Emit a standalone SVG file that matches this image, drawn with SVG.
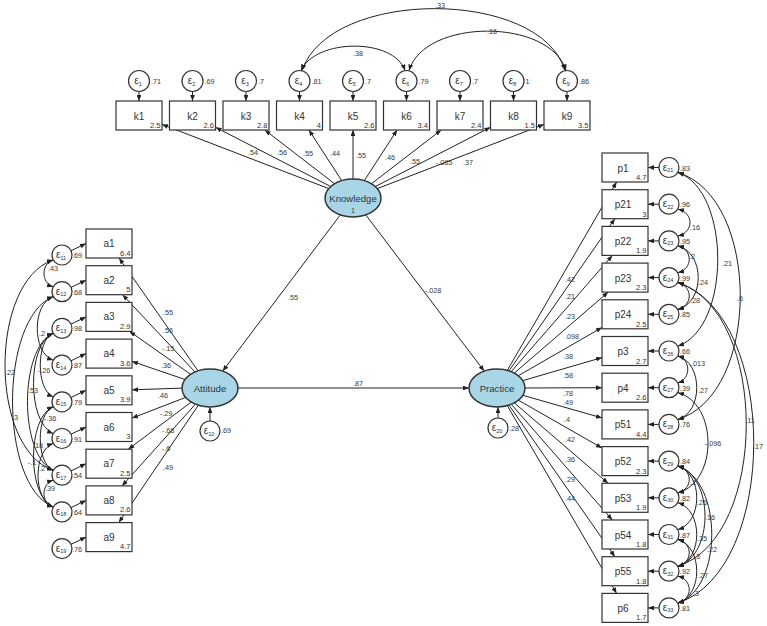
<svg xmlns="http://www.w3.org/2000/svg" width="767" height="626" viewBox="0 0 767 626">
<style>
.box{fill:#fff;stroke:#333;stroke-width:1.2}
.lat{fill:#a8d6e6;stroke:#333;stroke-width:1.5}
.err{fill:#fff;stroke:#333;stroke-width:1.2}
text{font-family:"Liberation Sans",Arial,sans-serif;fill:#333}
.nm{font-size:10px;text-anchor:middle}
.ln{font-size:9.6px;text-anchor:middle}
.mn{font-size:7.5px;text-anchor:end}
.lb{font-size:7.3px;text-anchor:middle;fill:#3a3a3a}
.vl{font-size:7.3px;fill:#3a3a3a}
.ep{font-size:10px;text-anchor:middle}
.sb{font-size:5.5px}
.pa{fill:none;stroke:#222;stroke-width:1;marker-end:url(#ah)}
.cv{fill:none;stroke:#222;stroke-width:1;marker-end:url(#ah);marker-start:url(#ah)}
</style>
<defs>
<marker id="ah" viewBox="0 0 10 8" refX="10" refY="4" markerWidth="6" markerHeight="4.8" markerUnits="userSpaceOnUse" orient="auto-start-reverse"><path d="M0,0L10,4L0,8z" fill="#222"/></marker>
</defs>
<rect width="767" height="626" fill="#fff"/>

<g id="connectors">
<path class="pa" d="M328.7,188.6L162,124.4"/>
<path class="pa" d="M330.7,186.5L215.5,127.3"/>
<path class="pa" d="M334.5,183.7L264.8,130"/>
<path class="pa" d="M341.7,180.6L308.9,130"/>
<path class="pa" d="M353,179L353,130"/>
<path class="pa" d="M364.3,180.6L397.1,130"/>
<path class="pa" d="M371.5,183.7L441.2,130"/>
<path class="pa" d="M375.3,186.5L490.5,127.3"/>
<path class="pa" d="M377.3,188.6L544,124.4"/>
<path class="pa" d="M139,91.5V101"/>
<path class="pa" d="M192.5,91.5V101"/>
<path class="pa" d="M246,91.5V101"/>
<path class="pa" d="M299.5,91.5V101"/>
<path class="pa" d="M353,91.5V101"/>
<path class="pa" d="M406.5,91.5V101"/>
<path class="pa" d="M460,91.5V101"/>
<path class="pa" d="M513.5,91.5V101"/>
<path class="pa" d="M567,91.5V101"/>
<path class="cv" d="M302,70.5C330,-12 540,-12 565,70.5"/>
<path class="cv" d="M301,70.5C316,38 394,38 405,70.5"/>
<path class="cv" d="M409,70.5C425,18 550,18 566,70.5"/>
<path class="pa" d="M198,370.8L119.1,258"/>
<path class="pa" d="M195,372L122.6,294.7"/>
<path class="pa" d="M190.6,374.3L129.6,331.4"/>
<path class="pa" d="M185,379.5L132,361.4"/>
<path class="pa" d="M182,388.1L132,389.8"/>
<path class="pa" d="M185.7,397.4L132,418.1"/>
<path class="pa" d="M191.2,402.1L128.3,449.2"/>
<path class="pa" d="M195.4,404.2L122,485.9"/>
<path class="pa" d="M198.3,405.3L118.8,522.6"/>
<path class="pa" d="M71,250.7L86,243.5"/>
<path class="pa" d="M71,287.4L86,280.2"/>
<path class="pa" d="M71,324.1L86,316.9"/>
<path class="pa" d="M71,360.8L86,353.6"/>
<path class="pa" d="M71,397.5L86,390.3"/>
<path class="pa" d="M71,434.2L86,427"/>
<path class="pa" d="M71,470.9L86,463.7"/>
<path class="pa" d="M71,507.6L86,500.4"/>
<path class="pa" d="M71,544.3L86,537.1"/>
<path class="cv" d="M53,260C41,263.7 41,283 53,286.7"/>
<path class="cv" d="M53,260C-11,282 -11,448.2 53,470.2"/>
<path class="cv" d="M53,296.7C-1,318.7 -1,484.9 53,506.9"/>
<path class="cv" d="M53,296.7C32,304 32,352.8 53,360.1"/>
<path class="cv" d="M53,333.4C36,340.7 36,389.5 53,396.8"/>
<path class="cv" d="M53,333.4C19,348.1 19,455.5 53,470.2"/>
<path class="cv" d="M53,333.4C27,344.4 27,422.5 53,433.5"/>
<path class="cv" d="M53,406.8C27,417.8 27,495.9 53,506.9"/>
<path class="cv" d="M53,443.5C33,450.8 33,499.6 53,506.9"/>
<path class="cv" d="M53,406.8C36,414.1 36,462.9 53,470.2"/>
<path class="cv" d="M53,480.2C41,483.9 41,503.2 53,506.9"/>
<path class="pa" d="M507.3,370.3L616.6,182"/>
<path class="pa" d="M509,370.8L614.9,218.7"/>
<path class="pa" d="M511.2,371.6L612.4,255.4"/>
<path class="pa" d="M514.3,373.1L608.2,292.1"/>
<path class="pa" d="M518.3,375.7L602,327.5"/>
<path class="pa" d="M522.8,380.6L602,357.6"/>
<path class="pa" d="M525,388L602,387.7"/>
<path class="pa" d="M522.8,395.3L602,417.9"/>
<path class="pa" d="M518.4,400.2L602,448"/>
<path class="pa" d="M514.4,402.9L608.1,483.3"/>
<path class="pa" d="M511.3,404.3L612.3,520"/>
<path class="pa" d="M509,405.2L614.9,556.7"/>
<path class="pa" d="M507.3,405.7L616.6,593.4"/>
<path class="pa" d="M659,167.5H648"/>
<path class="pa" d="M659,204.2H648"/>
<path class="pa" d="M659,240.9H648"/>
<path class="pa" d="M659,277.6H648"/>
<path class="pa" d="M659,314.3H648"/>
<path class="pa" d="M659,351H648"/>
<path class="pa" d="M659,387.7H648"/>
<path class="pa" d="M659,424.4H648"/>
<path class="pa" d="M659,461.1H648"/>
<path class="pa" d="M659,497.8H648"/>
<path class="pa" d="M659,534.5H648"/>
<path class="pa" d="M659,571.2H648"/>
<path class="pa" d="M659,607.9H648"/>
<path class="cv" d="M678,209.2C694,212.9 694,232.2 678,235.9"/>
<path class="cv" d="M678,245.9C693,249.6 693,268.9 678,272.6"/>
<path class="cv" d="M678,245.9C705,253.2 705,302 678,309.3"/>
<path class="cv" d="M678,282.6C693,286.3 693,305.6 678,309.3"/>
<path class="cv" d="M678,172.5C731,190.9 731,327.7 678,346"/>
<path class="cv" d="M678,172.5C761,198.2 761,393.7 678,419.4"/>
<path class="cv" d="M678,282.6C769,311.9 769,536.9 678,566.2"/>
<path class="cv" d="M678,282.6C779,315.6 779,569.9 678,602.9"/>
<path class="cv" d="M678,356C691,359.7 691,379 678,382.7"/>
<path class="cv" d="M678,356C703,363.3 703,412.1 678,419.4"/>
<path class="cv" d="M678,392.7C718,403.7 718,481.8 678,492.8"/>
<path class="cv" d="M678,466.1C693,469.8 693,489.1 678,492.8"/>
<path class="cv" d="M678,466.1C703,473.4 703,522.2 678,529.5"/>
<path class="cv" d="M678,466.1C714,477.1 714,555.2 678,566.2"/>
<path class="cv" d="M678,466.1C723,480.8 723,588.2 678,602.9"/>
<path class="cv" d="M678,502.8C703,510.1 703,558.9 678,566.2"/>
<path class="cv" d="M678,539.5C693,543.2 693,562.5 678,566.2"/>
<path class="cv" d="M678,539.5C703,546.8 703,595.6 678,602.9"/>
<path class="cv" d="M678,576.2C693,579.9 693,599.2 678,602.9"/>
<path class="pa" d="M340.3,214.9L222.7,371.1"/>
<path class="pa" d="M365.8,214.9L484.2,371.1"/>
<path class="pa" d="M238,388L469,388"/>
<path class="pa" d="M210,421V407"/>
<path class="pa" d="M498,418V407"/>
</g>

<g id="labels">
<text class="lb" x="253" y="154.5">.54</text>
<text class="lb" x="282" y="154.5">.56</text>
<text class="lb" x="308" y="155.5">.55</text>
<text class="lb" x="335" y="155.5">.44</text>
<text class="lb" x="361" y="157.5">.55</text>
<text class="lb" x="390" y="159.5">.46</text>
<text class="lb" x="415" y="163.5">.55</text>
<text class="lb" x="444" y="164.5">-.085</text>
<text class="lb" x="468" y="164.5">.37</text>
<text class="lb" x="440" y="8">.33</text>
<text class="lb" x="358" y="55.5">.38</text>
<text class="lb" x="492" y="33.5">.16</text>
<text class="lb" x="168" y="314.5">.55</text>
<text class="lb" x="168" y="332.5">.56</text>
<text class="lb" x="168" y="351">-.15</text>
<text class="lb" x="166" y="367.5">.36</text>
<text class="lb" x="163" y="397.5">.46</text>
<text class="lb" x="166" y="415.5">-.29</text>
<text class="lb" x="168" y="432.5">-.68</text>
<text class="lb" x="166" y="450.5">-.6</text>
<text class="lb" x="168" y="469.5">.49</text>
<text class="lb" x="293" y="299.5">.55</text>
<text class="lb" x="433" y="292.5">-.028</text>
<text class="lb" x="358" y="385.5">.87</text>
<text class="lb" x="570" y="281.5">.42</text>
<text class="lb" x="570" y="298.5">.21</text>
<text class="lb" x="570" y="318.5">.23</text>
<text class="lb" x="572" y="338.5">.098</text>
<text class="lb" x="568" y="358.5">.38</text>
<text class="lb" x="568" y="377.5">.58</text>
<text class="lb" x="568" y="395.5">.78</text>
<text class="lb" x="568" y="404.5">.49</text>
<text class="lb" x="567" y="421.5">.4</text>
<text class="lb" x="570" y="441.5">.42</text>
<text class="lb" x="570" y="461.5">.36</text>
<text class="lb" x="570" y="481.5">.29</text>
<text class="lb" x="570" y="500.5">.44</text>
<text class="lb" x="53" y="270.5">.43</text>
<text class="lb" x="10" y="374.5">.22</text>
<text class="lb" x="15" y="419.5">.3</text>
<text class="lb" x="42" y="335.5">.2</text>
<text class="lb" x="44" y="372.5">-.26</text>
<text class="lb" x="33" y="392.5">.53</text>
<text class="lb" x="50" y="420.5">-.36</text>
<text class="lb" x="38" y="447.5">.18</text>
<text class="lb" x="32" y="464.5">-.1</text>
<text class="lb" x="42" y="470.5">.2</text>
<text class="lb" x="50" y="490.5">.39</text>
<text class="lb" x="695" y="229.5">.16</text>
<text class="lb" x="692" y="258.5">.2</text>
<text class="lb" x="703" y="284.5">.24</text>
<text class="lb" x="695" y="302.5">.28</text>
<text class="lb" x="727" y="265.5">.21</text>
<text class="lb" x="740" y="300.5">.6</text>
<text class="lb" x="698" y="365.5">.013</text>
<text class="lb" x="703" y="392.5">.27</text>
<text class="lb" x="750" y="422.5">.11</text>
<text class="lb" x="758" y="448.5">.17</text>
<text class="lb" x="713" y="445.5">-.096</text>
<text class="lb" x="693" y="484.5">.1</text>
<text class="lb" x="702" y="504.5">.26</text>
<text class="lb" x="710" y="519.5">.16</text>
<text class="lb" x="702" y="540.5">.35</text>
<text class="lb" x="712" y="551.5">.22</text>
<text class="lb" x="697" y="558.5">.3</text>
<text class="lb" x="703" y="577.5">.27</text>
<text class="lb" x="696" y="595.5">.3</text>
</g>

<g id="Knowledge"><ellipse class="lat" cx="353" cy="198" rx="28" ry="19"/><text class="ln" x="353" y="201.5">Knowledge</text><text class="lb" x="353" y="213" style="font-size:7px">1</text></g>
<g id="Attitude"><ellipse class="lat" cx="210" cy="388" rx="28" ry="19"/><text class="ln" x="210" y="391.5">Attitude</text></g>
<g id="Practice"><ellipse class="lat" cx="497" cy="388" rx="28" ry="19"/><text class="ln" x="497" y="391.5">Practice</text></g>
<g id="e10"><circle class="err" cx="210" cy="431" r="10"/><text class="ep" x="209" y="434">ε<tspan class="sb" dy="1.5">10</tspan></text><text class="vl" x="221" y="433">.69</text></g>
<g id="e20"><circle class="err" cx="498" cy="428" r="10"/><text class="ep" x="497" y="431">ε<tspan class="sb" dy="1.5">20</tspan></text><text class="vl" x="509" y="431">.28</text></g>

<g id="k1"><rect class="box" x="116" y="101" width="46" height="29"/><text class="nm" x="139" y="120">k1</text><text class="mn" x="160.5" y="128">2.5</text></g>
<g id="k2"><rect class="box" x="169.5" y="101" width="46" height="29"/><text class="nm" x="192.5" y="120">k2</text><text class="mn" x="214" y="128">2.6</text></g>
<g id="k3"><rect class="box" x="223" y="101" width="46" height="29"/><text class="nm" x="246" y="120">k3</text><text class="mn" x="267.5" y="128">2.8</text></g>
<g id="k4"><rect class="box" x="276.5" y="101" width="46" height="29"/><text class="nm" x="299.5" y="120">k4</text><text class="mn" x="321" y="128">4</text></g>
<g id="k5"><rect class="box" x="330" y="101" width="46" height="29"/><text class="nm" x="353" y="120">k5</text><text class="mn" x="374.5" y="128">2.6</text></g>
<g id="k6"><rect class="box" x="383.5" y="101" width="46" height="29"/><text class="nm" x="406.5" y="120">k6</text><text class="mn" x="428" y="128">3.4</text></g>
<g id="k7"><rect class="box" x="437" y="101" width="46" height="29"/><text class="nm" x="460" y="120">k7</text><text class="mn" x="481.5" y="128">2.4</text></g>
<g id="k8"><rect class="box" x="490.5" y="101" width="46" height="29"/><text class="nm" x="513.5" y="120">k8</text><text class="mn" x="535" y="128">1.5</text></g>
<g id="k9"><rect class="box" x="544" y="101" width="46" height="29"/><text class="nm" x="567" y="120">k9</text><text class="mn" x="588.5" y="128">3.5</text></g>

<g id="e1"><circle class="err" cx="139" cy="81" r="10.5"/><text class="ep" x="138" y="84">ε<tspan class="sb" dy="1.5">1</tspan></text><text class="vl" x="151" y="84">.71</text></g>
<g id="e2"><circle class="err" cx="192.5" cy="81" r="10.5"/><text class="ep" x="191.5" y="84">ε<tspan class="sb" dy="1.5">2</tspan></text><text class="vl" x="204.5" y="84">.69</text></g>
<g id="e3"><circle class="err" cx="246" cy="81" r="10.5"/><text class="ep" x="245" y="84">ε<tspan class="sb" dy="1.5">3</tspan></text><text class="vl" x="258" y="84">.7</text></g>
<g id="e4"><circle class="err" cx="299.5" cy="81" r="10.5"/><text class="ep" x="298.5" y="84">ε<tspan class="sb" dy="1.5">4</tspan></text><text class="vl" x="311.5" y="84">.81</text></g>
<g id="e5"><circle class="err" cx="353" cy="81" r="10.5"/><text class="ep" x="352" y="84">ε<tspan class="sb" dy="1.5">5</tspan></text><text class="vl" x="365" y="84">.7</text></g>
<g id="e6"><circle class="err" cx="406.5" cy="81" r="10.5"/><text class="ep" x="405.5" y="84">ε<tspan class="sb" dy="1.5">6</tspan></text><text class="vl" x="418.5" y="84">.79</text></g>
<g id="e7"><circle class="err" cx="460" cy="81" r="10.5"/><text class="ep" x="459" y="84">ε<tspan class="sb" dy="1.5">7</tspan></text><text class="vl" x="472" y="84">.7</text></g>
<g id="e8"><circle class="err" cx="513.5" cy="81" r="10.5"/><text class="ep" x="512.5" y="84">ε<tspan class="sb" dy="1.5">8</tspan></text><text class="vl" x="525.5" y="84">1</text></g>
<g id="e9"><circle class="err" cx="567" cy="81" r="10.5"/><text class="ep" x="566" y="84">ε<tspan class="sb" dy="1.5">9</tspan></text><text class="vl" x="579" y="84">.86</text></g>

<g id="a1"><rect class="box" x="86" y="229" width="46" height="29"/><text class="nm" x="109" y="247">a1</text><text class="mn" x="130.5" y="255.5">6.4</text></g>
<g id="a2"><rect class="box" x="86" y="265.7" width="46" height="29"/><text class="nm" x="109" y="283.7">a2</text><text class="mn" x="130.5" y="292.2">5</text></g>
<g id="a3"><rect class="box" x="86" y="302.4" width="46" height="29"/><text class="nm" x="109" y="320.4">a3</text><text class="mn" x="130.5" y="328.9">2.9</text></g>
<g id="a4"><rect class="box" x="86" y="339.1" width="46" height="29"/><text class="nm" x="109" y="357.1">a4</text><text class="mn" x="130.5" y="365.6">3.6</text></g>
<g id="a5"><rect class="box" x="86" y="375.8" width="46" height="29"/><text class="nm" x="109" y="393.8">a5</text><text class="mn" x="130.5" y="402.3">3.9</text></g>
<g id="a6"><rect class="box" x="86" y="412.5" width="46" height="29"/><text class="nm" x="109" y="430.5">a6</text><text class="mn" x="130.5" y="439">3</text></g>
<g id="a7"><rect class="box" x="86" y="449.2" width="46" height="29"/><text class="nm" x="109" y="467.2">a7</text><text class="mn" x="130.5" y="475.7">2.5</text></g>
<g id="a8"><rect class="box" x="86" y="485.9" width="46" height="29"/><text class="nm" x="109" y="503.9">a8</text><text class="mn" x="130.5" y="512.4">2.6</text></g>
<g id="a9"><rect class="box" x="86" y="522.6" width="46" height="29"/><text class="nm" x="109" y="540.6">a9</text><text class="mn" x="130.5" y="549.1">4.7</text></g>

<g id="e11"><circle class="err" cx="62" cy="255" r="10"/><text class="ep" x="61" y="258">ε<tspan class="sb" dy="1.5">11</tspan></text><text class="vl" x="72" y="258">.69</text></g>
<g id="e12"><circle class="err" cx="62" cy="291.7" r="10"/><text class="ep" x="61" y="294.7">ε<tspan class="sb" dy="1.5">12</tspan></text><text class="vl" x="72" y="294.7">.68</text></g>
<g id="e13"><circle class="err" cx="62" cy="328.4" r="10"/><text class="ep" x="61" y="331.4">ε<tspan class="sb" dy="1.5">13</tspan></text><text class="vl" x="72" y="331.4">.98</text></g>
<g id="e14"><circle class="err" cx="62" cy="365.1" r="10"/><text class="ep" x="61" y="368.1">ε<tspan class="sb" dy="1.5">14</tspan></text><text class="vl" x="72" y="368.1">.87</text></g>
<g id="e15"><circle class="err" cx="62" cy="401.8" r="10"/><text class="ep" x="61" y="404.8">ε<tspan class="sb" dy="1.5">15</tspan></text><text class="vl" x="72" y="404.8">.79</text></g>
<g id="e16"><circle class="err" cx="62" cy="438.5" r="10"/><text class="ep" x="61" y="441.5">ε<tspan class="sb" dy="1.5">16</tspan></text><text class="vl" x="72" y="441.5">.91</text></g>
<g id="e17"><circle class="err" cx="62" cy="475.2" r="10"/><text class="ep" x="61" y="478.2">ε<tspan class="sb" dy="1.5">17</tspan></text><text class="vl" x="72" y="478.2">.54</text></g>
<g id="e18"><circle class="err" cx="62" cy="511.9" r="10"/><text class="ep" x="61" y="514.9">ε<tspan class="sb" dy="1.5">18</tspan></text><text class="vl" x="72" y="514.9">.64</text></g>
<g id="e19"><circle class="err" cx="62" cy="548.6" r="10"/><text class="ep" x="61" y="551.6">ε<tspan class="sb" dy="1.5">19</tspan></text><text class="vl" x="72" y="551.6">.76</text></g>

<g id="p1"><rect class="box" x="602" y="153" width="46" height="29"/><text class="nm" x="623" y="171.5">p1</text><text class="mn" x="646.5" y="180">4.7</text></g>
<g id="p21"><rect class="box" x="602" y="189.7" width="46" height="29"/><text class="nm" x="623" y="208.2">p21</text><text class="mn" x="646.5" y="216.7">3</text></g>
<g id="p22"><rect class="box" x="602" y="226.4" width="46" height="29"/><text class="nm" x="623" y="244.9">p22</text><text class="mn" x="646.5" y="253.4">1.9</text></g>
<g id="p23"><rect class="box" x="602" y="263.1" width="46" height="29"/><text class="nm" x="623" y="281.6">p23</text><text class="mn" x="646.5" y="290.1">2.3</text></g>
<g id="p24"><rect class="box" x="602" y="299.8" width="46" height="29"/><text class="nm" x="623" y="318.3">p24</text><text class="mn" x="646.5" y="326.8">2.5</text></g>
<g id="p3"><rect class="box" x="602" y="336.5" width="46" height="29"/><text class="nm" x="623" y="355">p3</text><text class="mn" x="646.5" y="363.5">2.7</text></g>
<g id="p4"><rect class="box" x="602" y="373.2" width="46" height="29"/><text class="nm" x="623" y="391.7">p4</text><text class="mn" x="646.5" y="400.2">2.6</text></g>
<g id="p51"><rect class="box" x="602" y="409.9" width="46" height="29"/><text class="nm" x="623" y="428.4">p51</text><text class="mn" x="646.5" y="436.9">4.4</text></g>
<g id="p52"><rect class="box" x="602" y="446.6" width="46" height="29"/><text class="nm" x="623" y="465.1">p52</text><text class="mn" x="646.5" y="473.6">2.3</text></g>
<g id="p53"><rect class="box" x="602" y="483.3" width="46" height="29"/><text class="nm" x="623" y="501.8">p53</text><text class="mn" x="646.5" y="510.3">1.9</text></g>
<g id="p54"><rect class="box" x="602" y="520" width="46" height="29"/><text class="nm" x="623" y="538.5">p54</text><text class="mn" x="646.5" y="547">1.8</text></g>
<g id="p55"><rect class="box" x="602" y="556.7" width="46" height="29"/><text class="nm" x="623" y="575.2">p55</text><text class="mn" x="646.5" y="583.7">1.8</text></g>
<g id="p6"><rect class="box" x="602" y="593.4" width="46" height="29"/><text class="nm" x="623" y="611.9">p6</text><text class="mn" x="646.5" y="620.4">1.7</text></g>

<g id="e21"><circle class="err" cx="669" cy="167.5" r="10"/><text class="ep" x="668" y="170.5">ε<tspan class="sb" dy="1.5">21</tspan></text><text class="vl" x="680" y="170.5">.83</text></g>
<g id="e22"><circle class="err" cx="669" cy="204.2" r="10"/><text class="ep" x="668" y="207.2">ε<tspan class="sb" dy="1.5">22</tspan></text><text class="vl" x="680" y="207.2">.96</text></g>
<g id="e23"><circle class="err" cx="669" cy="240.9" r="10"/><text class="ep" x="668" y="243.9">ε<tspan class="sb" dy="1.5">23</tspan></text><text class="vl" x="680" y="243.9">.95</text></g>
<g id="e24"><circle class="err" cx="669" cy="277.6" r="10"/><text class="ep" x="668" y="280.6">ε<tspan class="sb" dy="1.5">24</tspan></text><text class="vl" x="680" y="280.6">.99</text></g>
<g id="e25"><circle class="err" cx="669" cy="314.3" r="10"/><text class="ep" x="668" y="317.3">ε<tspan class="sb" dy="1.5">25</tspan></text><text class="vl" x="680" y="317.3">.85</text></g>
<g id="e26"><circle class="err" cx="669" cy="351" r="10"/><text class="ep" x="668" y="354">ε<tspan class="sb" dy="1.5">26</tspan></text><text class="vl" x="680" y="354">.66</text></g>
<g id="e27"><circle class="err" cx="669" cy="387.7" r="10"/><text class="ep" x="668" y="390.7">ε<tspan class="sb" dy="1.5">27</tspan></text><text class="vl" x="680" y="390.7">.39</text></g>
<g id="e28"><circle class="err" cx="669" cy="424.4" r="10"/><text class="ep" x="668" y="427.4">ε<tspan class="sb" dy="1.5">28</tspan></text><text class="vl" x="680" y="427.4">.76</text></g>
<g id="e29"><circle class="err" cx="669" cy="461.1" r="10"/><text class="ep" x="668" y="464.1">ε<tspan class="sb" dy="1.5">29</tspan></text><text class="vl" x="680" y="464.1">.84</text></g>
<g id="e30"><circle class="err" cx="669" cy="497.8" r="10"/><text class="ep" x="668" y="500.8">ε<tspan class="sb" dy="1.5">30</tspan></text><text class="vl" x="680" y="500.8">.82</text></g>
<g id="e31"><circle class="err" cx="669" cy="534.5" r="10"/><text class="ep" x="668" y="537.5">ε<tspan class="sb" dy="1.5">31</tspan></text><text class="vl" x="680" y="537.5">.87</text></g>
<g id="e32"><circle class="err" cx="669" cy="571.2" r="10"/><text class="ep" x="668" y="574.2">ε<tspan class="sb" dy="1.5">32</tspan></text><text class="vl" x="680" y="574.2">.92</text></g>
<g id="e33"><circle class="err" cx="669" cy="607.9" r="10"/><text class="ep" x="668" y="610.9">ε<tspan class="sb" dy="1.5">33</tspan></text><text class="vl" x="680" y="610.9">.81</text></g>
</svg>
